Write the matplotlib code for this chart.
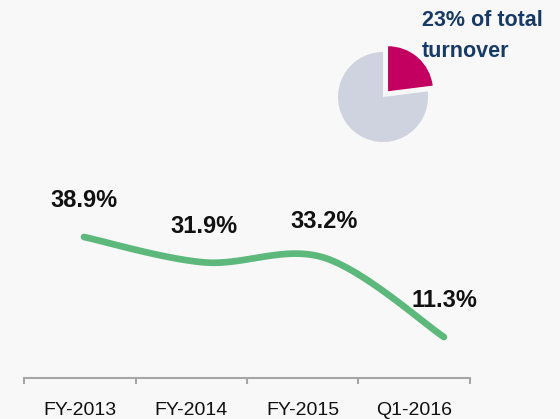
import numpy as np
import matplotlib
matplotlib.use("Agg")
import matplotlib.pyplot as plt

plt.rcParams['font.family'] = ['Liberation Sans', 'DejaVu Sans']

categories = ["FY-2013", "FY-2014", "FY-2015", "Q1-2016"]
values = [38.9, 31.9, 33.2, 11.3]
value_labels = ["38.9%", "31.9%", "33.2%", "11.3%"]
pie_values = [23, 77]
pie_text = "23% of total\nturnover"

BG = "#f8f8f8"
W, H = 560, 419
fig = plt.figure(figsize=(W / 100, H / 100), dpi=100, facecolor=BG)

def px(x0, y0, x1, y1):
    return [x0 / W, 1 - y1 / H, (x1 - x0) / W, (y1 - y0) / H]

# category axis
ax = fig.add_axes(px(24, 150, 470, 378))
ax.set_facecolor("none")
ax.set_xlim(-0.5, len(categories) - 0.5)
ax.set_ylim(0, 62.9)
for s in ["top", "right", "left"]:
    ax.spines[s].set_visible(False)
ax.spines["bottom"].set_color("#a6a6a6")
ax.spines["bottom"].set_linewidth(1.5)
ax.set_yticks([])
ax.set_xticks(range(len(categories)))
ax.set_xticklabels(categories, fontsize=14, color="#111111")
ax.tick_params(axis="x", which="major", length=0, pad=17)
ax.set_xticks(np.arange(-0.5, len(categories)), minor=True)
ax.tick_params(axis="x", which="minor", length=4.5, width=1.5, color="#a6a6a6")

# line axis (same vertical scale, own horizontal spacing)
ax2 = fig.add_axes(px(24, 150, 470, 378))
ax2.set_facecolor("none")
ax2.axis("off")
ax2.set_xlim(-0.5, 3.217)
ax2.set_ylim(0, 62.9)

xs = np.arange(len(values), dtype=float)
ys = np.array(values, dtype=float)

def smooth(x, y, n=40):
    px_, py_ = [], []
    for i in range(len(x) - 1):
        p0 = np.array([x[max(i - 1, 0)], y[max(i - 1, 0)]])
        p1 = np.array([x[i], y[i]])
        p2 = np.array([x[i + 1], y[i + 1]])
        p3 = np.array([x[min(i + 2, len(x) - 1)], y[min(i + 2, len(x) - 1)]])
        c1 = p1 + (p2 - p0) / 6
        c2 = p2 - (p3 - p1) / 6
        t = np.linspace(0, 1, n)[:, None]
        b = (1 - t) ** 3 * p1 + 3 * (1 - t) ** 2 * t * c1 + 3 * (1 - t) * t ** 2 * c2 + t ** 3 * p2
        px_.extend(b[:, 0]); py_.extend(b[:, 1])
    return np.array(px_), np.array(py_)

sx, sy = smooth(xs, ys)
ax2.plot(sx, sy, color="#5db87c", lw=4.8, solid_capstyle="round")
for x, y, lab in zip(xs, ys, value_labels):
    ax2.annotate(lab, (x, y), xytext=(0, 26), textcoords="offset points",
                 ha="center", va="center", fontsize=17, fontweight="bold", color="#111111")

# pie inset
pax = fig.add_axes(px(383 - 54, 97 - 54, 383 + 54, 97 + 54))
pax.pie(pie_values, colors=["#c3005f", "#cfd3df"], startangle=90, counterclock=False,
        explode=[0.17, 0], radius=1, wedgeprops=dict(linewidth=0))
pax.set_xlim(-1.2, 1.2)
pax.set_ylim(-1.2, 1.2)
pax.set_aspect("equal")
pax.axis("off")

fig.text(422 / W, 1 - 36 / H, pie_text, ha="left", va="center", fontsize=15.5,
         fontweight="bold", color="#173a66", linespacing=1.6)

fig.savefig("out.png", dpi=100, facecolor=BG)
